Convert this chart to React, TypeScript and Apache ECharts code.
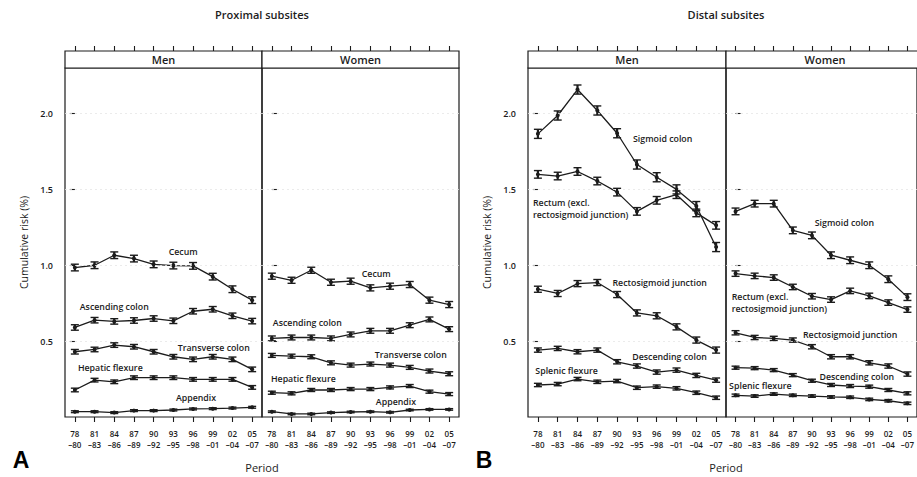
import React, { useEffect, useRef } from "react";
import * as echarts from "echarts";

// ---------- categories / ticks ----------
const PERIODS = ["78\n–80", "81\n–83", "84\n–86", "87\n–89", "90\n–92", "93\n–95", "96\n–98", "99\n–01", "02\n–04", "05\n–07"];
const PERIOD_IDX = [0, 1, 2, 3, 4, 5, 6, 7, 8, 9];
const Y_TICKS = [0.5, 1.0, 1.5, 2.0];

// ---------- A: proximal subsites, men ----------
const A_MEN_CECUM = [0.985, 1.0, 1.066, 1.044, 1.006, 0.998, 0.996, 0.925, 0.842, 0.77];
const A_MEN_ASCENDING = [0.59, 0.638, 0.63, 0.636, 0.649, 0.634, 0.697, 0.71, 0.667, 0.632];
const A_MEN_TRANSVERSE = [0.43, 0.445, 0.474, 0.463, 0.43, 0.397, 0.38, 0.397, 0.38, 0.314];
const A_MEN_HEPATIC = [0.178, 0.243, 0.232, 0.259, 0.259, 0.259, 0.248, 0.248, 0.248, 0.195];
const A_MEN_APPENDIX = [0.035, 0.035, 0.029, 0.042, 0.042, 0.046, 0.053, 0.055, 0.059, 0.064];
// ---------- A: proximal subsites, women ----------
const A_WOMEN_CECUM = [0.928, 0.901, 0.967, 0.888, 0.895, 0.851, 0.862, 0.873, 0.77, 0.741];
const A_WOMEN_ASCENDING = [0.518, 0.524, 0.524, 0.518, 0.544, 0.568, 0.568, 0.605, 0.643, 0.579];
const A_WOMEN_TRANSVERSE = [0.406, 0.401, 0.397, 0.357, 0.342, 0.349, 0.342, 0.327, 0.303, 0.285];
const A_WOMEN_HEPATIC = [0.16, 0.156, 0.178, 0.178, 0.184, 0.184, 0.195, 0.204, 0.167, 0.151];
const A_WOMEN_APPENDIX = [0.035, 0.02, 0.02, 0.029, 0.033, 0.035, 0.031, 0.046, 0.05, 0.05];
// ---------- B: distal subsites, men ----------
const B_MEN_SIGMOID = [1.866, 1.987, 2.158, 2.02, 1.87, 1.664, 1.58, 1.5, 1.39, 1.12];
const B_MEN_RECTUM = [1.599, 1.588, 1.618, 1.555, 1.482, 1.355, 1.428, 1.465, 1.345, 1.263];
const B_MEN_RECTOSIGMOID = [0.842, 0.814, 0.879, 0.886, 0.807, 0.686, 0.667, 0.594, 0.507, 0.441];
const B_MEN_DESCENDING = [0.441, 0.452, 0.43, 0.441, 0.364, 0.336, 0.296, 0.309, 0.274, 0.243];
const B_MEN_SPLENIC = [0.211, 0.217, 0.25, 0.232, 0.237, 0.193, 0.2, 0.189, 0.16, 0.127];
// ---------- B: distal subsites, women ----------
const B_WOMEN_SIGMOID = [1.355, 1.406, 1.406, 1.23, 1.197, 1.066, 1.033, 1.0, 0.908, 0.79];
const B_WOMEN_RECTUM = [0.945, 0.93, 0.919, 0.857, 0.796, 0.774, 0.831, 0.798, 0.754, 0.708];
const B_WOMEN_RECTOSIGMOID = [0.555, 0.524, 0.518, 0.507, 0.463, 0.397, 0.397, 0.357, 0.336, 0.283];
const B_WOMEN_DESCENDING = [0.325, 0.322, 0.309, 0.276, 0.239, 0.211, 0.204, 0.2, 0.178, 0.156];
const B_WOMEN_SPLENIC = [0.143, 0.138, 0.151, 0.143, 0.138, 0.132, 0.13, 0.116, 0.107, 0.09];

// error bar half-widths (per subsite)
const ERR_A_MEN = [0.022, 0.018, 0.015, 0.012, 0.006];
const ERR_A_WOMEN = [0.02, 0.016, 0.013, 0.01, 0.005];
const ERR_B_MEN = [0.03, 0.025, 0.02, 0.014, 0.011];
const ERR_B_WOMEN = [0.022, 0.018, 0.014, 0.01, 0.008];

// subsite label annotations (data coordinates)
const LABELS_A_MEN = [
  { text: "Cecum", x: 5.5, y: 1.086, align: "center" },
  { text: "Ascending colon", x: 2.0, y: 0.724, align: "center" },
  { text: "Transverse colon", x: 7.05, y: 0.454, align: "center" },
  { text: "Hepatic flexure", x: 1.8, y: 0.322, align: "center" },
  { text: "Appendix", x: 6.15, y: 0.125, align: "center" },
];
const LABELS_A_WOMEN = [
  { text: "Cecum", x: 5.3, y: 0.94, align: "center" },
  { text: "Ascending colon", x: 1.8, y: 0.618, align: "center" },
  { text: "Transverse colon", x: 7.05, y: 0.408, align: "center" },
  { text: "Hepatic flexure", x: 1.6, y: 0.25, align: "center" },
  { text: "Appendix", x: 6.3, y: 0.1, align: "center" },
];
const LABELS_B_MEN = [
  { text: "Sigmoid colon", x: 6.3, y: 1.835, align: "center" },
  { text: "Rectum (excl.\nrectosigmoid junction)", x: -0.25, y: 1.368, align: "left" },
  { text: "Rectosigmoid junction", x: 6.15, y: 0.88, align: "center" },
  { text: "Descending colon", x: 6.65, y: 0.395, align: "center" },
  { text: "Splenic flexure", x: 1.45, y: 0.303, align: "center" },
];
const LABELS_B_WOMEN = [
  { text: "Sigmoid colon", x: 5.7, y: 1.276, align: "center" },
  { text: "Rectum (excl.\nrectosigmoid junction)", x: -0.2, y: 0.75, align: "left" },
  { text: "Rectosigmoid junction", x: 6.0, y: 0.54, align: "center" },
  { text: "Descending colon", x: 6.35, y: 0.263, align: "center" },
  { text: "Splenic flexure", x: 1.3, y: 0.204, align: "center" },
];

const FONT = "'Open Sans', 'Noto Sans', sans-serif";
const INK = "#1c1c1c";

type Panel = {
  left: number;
  width: number;
  sex: string;
  side: "left" | "right";
  lines: number[][];
  errs: number[];
  labels: { text: string; x: number; y: number; align: string }[];
};

const PANELS: Panel[] = [
  { left: 65, width: 197, sex: "Men", side: "left", lines: [A_MEN_CECUM, A_MEN_ASCENDING, A_MEN_TRANSVERSE, A_MEN_HEPATIC, A_MEN_APPENDIX], errs: ERR_A_MEN, labels: LABELS_A_MEN },
  { left: 262, width: 197, sex: "Women", side: "right", lines: [A_WOMEN_CECUM, A_WOMEN_ASCENDING, A_WOMEN_TRANSVERSE, A_WOMEN_HEPATIC, A_WOMEN_APPENDIX], errs: ERR_A_WOMEN, labels: LABELS_A_WOMEN },
  { left: 528, width: 198, sex: "Men", side: "left", lines: [B_MEN_SIGMOID, B_MEN_RECTUM, B_MEN_RECTOSIGMOID, B_MEN_DESCENDING, B_MEN_SPLENIC], errs: ERR_B_MEN, labels: LABELS_B_MEN },
  { left: 726, width: 198, sex: "Women", side: "right", lines: [B_WOMEN_SIGMOID, B_WOMEN_RECTUM, B_WOMEN_RECTOSIGMOID, B_WOMEN_DESCENDING, B_WOMEN_SPLENIC], errs: ERR_B_WOMEN, labels: LABELS_B_WOMEN },
];

const TOP = 68;
const BOTTOM_Y = 417;
const STRIP_H = 17;

export default function App() {
  const ref = useRef<HTMLDivElement>(null);
  useEffect(() => {
    document.body.style.margin = "0";
    if (!ref.current) return;
    const chart = echarts.init(ref.current, null, { renderer: "svg" });

    const grid: any[] = [];
    const xAxis: any[] = [];
    const yAxis: any[] = [];
    const series: any[] = [];
    const graphic: any[] = [];

    PANELS.forEach((p, gi) => {
      grid.push({
        left: p.left, top: TOP, width: p.width, height: BOTTOM_Y - TOP,
        show: true, borderColor: INK, borderWidth: 1.2, backgroundColor: "transparent",
        containLabel: false,
      });
      // bottom axis
      xAxis.push({
        type: "value", gridIndex: gi, min: -0.5, max: 9.5, position: "bottom",
        axisLine: { show: false },
        splitLine: { show: false },
        axisTick: { show: true, inside: false, length: 5, customValues: PERIOD_IDX, lineStyle: { color: INK, width: 1.1 } },
        axisLabel: {
          show: true, customValues: PERIOD_IDX, margin: 11, hideOverlap: false,
          formatter: (v: number) => PERIODS[Math.round(v)],
          fontFamily: FONT, fontSize: 8, color: INK, lineHeight: 11, fontWeight: 600,
        },
      });
      // top axis (ticks above the strip)
      xAxis.push({
        type: "value", gridIndex: gi, min: -0.5, max: 9.5, position: "top", offset: STRIP_H,
        axisLine: { show: false }, splitLine: { show: false },
        axisTick: { show: true, inside: false, length: 5, customValues: PERIOD_IDX, lineStyle: { color: INK, width: 1.1 } },
        axisLabel: { show: false },
      });
      yAxis.push({
        type: "value", gridIndex: gi, min: 0, max: 2.3, position: p.side,
        axisLine: { show: false }, splitLine: { show: false },
        axisTick: { show: true, inside: false, length: 5, customValues: Y_TICKS, lineStyle: { color: INK, width: 1.1 } },
        axisLabel: {
          show: p.side === "left", customValues: Y_TICKS, margin: 12,
          formatter: (v: number) => v.toFixed(1),
          fontFamily: FONT, fontSize: 9, color: INK, fontWeight: 600,
        },
        name: p.side === "left" ? "Cumulative risk (%)" : "",
        nameLocation: "middle", nameGap: 36, nameRotate: 90,
        nameTextStyle: { fontFamily: FONT, fontSize: 10.5, color: INK },
      });

      const xBottom = gi * 2;
      p.lines.forEach((vals, si) => {
        series.push({
          type: "line", xAxisIndex: xBottom, yAxisIndex: gi,
          data: vals.map((v, i) => [PERIOD_IDX[i], v]),
          symbol: "circle", symbolSize: 4, showSymbol: true,
          lineStyle: { color: INK, width: 1.3 }, itemStyle: { color: INK },
          z: 3,
          markLine: si === 0 ? {
            silent: true, symbol: "none", label: { show: false },
            lineStyle: { color: "#e6e6e6", type: [2, 3], width: 0.8 },
            data: Y_TICKS.map((t) => ({ yAxis: t })),
          } : undefined,
        });
      });
      // error bars
      const errData: number[][] = [];
      p.lines.forEach((vals, si) => vals.forEach((v, i) => errData.push([PERIOD_IDX[i], v, p.errs[si]])));
      series.push({
        type: "custom", coordinateSystem: "cartesian2d", xAxisIndex: xBottom, yAxisIndex: gi,
        encode: { x: 0, y: 1 }, z: 4,
        data: errData,
        renderItem: (params: any, api: any) => {
          const x = api.value(0), y = api.value(1), e = api.value(2);
          const t = api.coord([x, y + e]);
          const b = api.coord([x, y - e]);
          const hw = 4;
          const st = { stroke: INK, lineWidth: 1.4 };
          return {
            type: "group",
            children: [
              { type: "line", shape: { x1: t[0], y1: t[1], x2: b[0], y2: b[1] }, style: { stroke: INK, lineWidth: 2.2 } },
              { type: "line", shape: { x1: t[0] - hw, y1: t[1], x2: t[0] + hw, y2: t[1] }, style: st },
              { type: "line", shape: { x1: b[0] - hw, y1: b[1], x2: b[0] + hw, y2: b[1] }, style: st },
            ],
          };
        },
      });
      // subsite labels
      const labs = p.labels;
      series.push({
        type: "custom", coordinateSystem: "cartesian2d", xAxisIndex: xBottom, yAxisIndex: gi,
        encode: { x: 0, y: 1 }, z: 5, silent: true,
        data: labs.map((l) => [l.x, l.y]),
        renderItem: (params: any, api: any) => {
          const l = labs[params.dataIndex];
          const c = api.coord([api.value(0), api.value(1)]);
          return {
            type: "text", x: c[0], y: c[1],
            style: {
              text: l.text, fill: INK, align: l.align, verticalAlign: "middle",
              font: `600 8.8px ${FONT}`, lineHeight: 12,
            },
          };
        },
      });
      // strip
      graphic.push({
        type: "rect", shape: { x: p.left, y: TOP - STRIP_H, width: p.width, height: STRIP_H },
        style: { fill: "#fff", stroke: INK, lineWidth: 1.2 }, z: 10,
      });
      graphic.push({
        type: "text", x: p.left + p.width / 2, y: TOP - STRIP_H / 2, z: 11,
        style: { text: p.sex, fill: INK, align: "center", verticalAlign: "middle", font: `600 11px ${FONT}` },
      });
    });

    const titles = [
      { text: "Proximal subsites", x: 262, y: 14, w: 600 },
      { text: "Distal subsites", x: 726, y: 14, w: 600 },
      { text: "Period", x: 262, y: 467, w: 400 },
      { text: "Period", x: 726, y: 467, w: 400 },
    ];
    titles.forEach((t) =>
      graphic.push({
        type: "text", x: t.x, y: t.y, z: 11,
        style: { text: t.text, fill: INK, align: "center", verticalAlign: "middle", font: `${t.w} 11px ${FONT}` },
      })
    );
    [{ text: "A", x: 21, y: 460 }, { text: "B", x: 484, y: 460 }].forEach((t) =>
      graphic.push({
        type: "text", x: t.x, y: t.y, z: 11,
        style: { text: t.text, fill: "#000", align: "center", verticalAlign: "middle", font: `bold 23px 'Liberation Sans', Arial, sans-serif` },
      })
    );

    chart.setOption({
      animation: false,
      backgroundColor: "#fff",
      grid, xAxis, yAxis, series, graphic,
    });
    return () => chart.dispose();
  }, []);
  return <div ref={ref} style={{ width: 917, height: 477 }} />;
}
